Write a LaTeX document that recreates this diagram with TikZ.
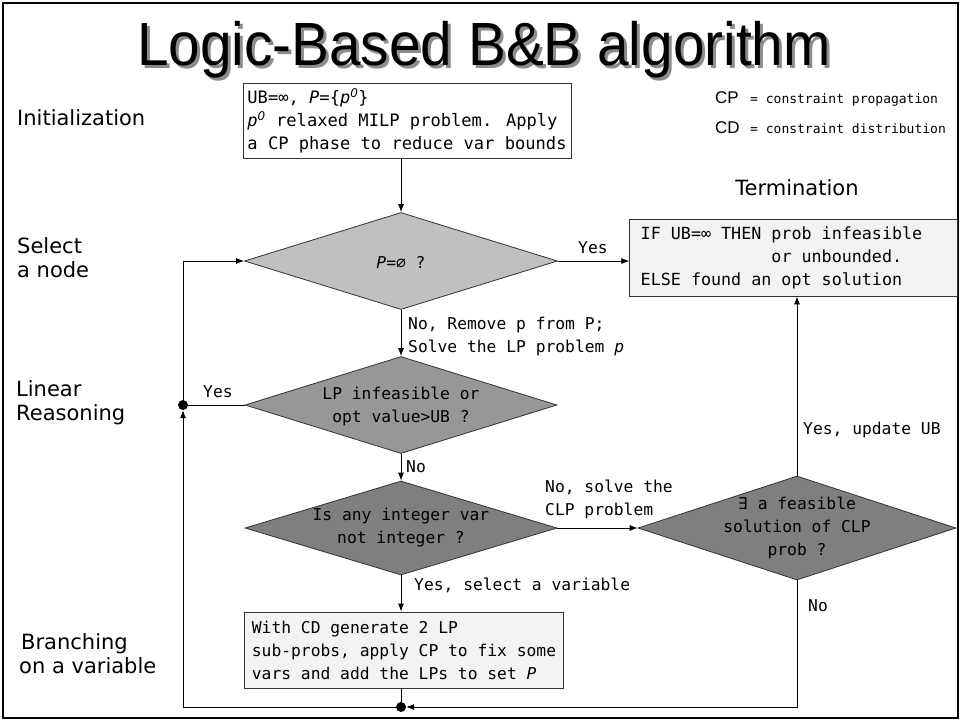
\documentclass[tikz,border=0pt]{standalone}
\usepackage{fontspec}
\usepackage{graphicx}
\usetikzlibrary{shapes.geometric,arrows.meta,calc}
\setmainfont{DejaVu Sans}
\newfontfamily\monof{DejaVu Sans Mono}
\newfontfamily\titlef{Liberation Sans}
\newfontfamily\labf{DejaVu Sans}
\newcommand\supzero{\textsuperscript{\labf\itshape 0}}
\definecolor{dlight}{HTML}{C0C0C0}
\definecolor{dmid}{HTML}{979797}
\definecolor{ddark}{HTML}{7F7F7F}
\definecolor{boxfill}{HTML}{F3F3F3}
\definecolor{edge}{HTML}{333333}
\begin{document}
\begin{tikzpicture}[x=1pt,y=-1pt,
  flow/.style={line width=0.8pt, draw=black},
  arr/.style={flow, -{Latex[length=8pt,width=6pt]}},
  mono/.style={font=\monof\fontsize{16.3}{23}\selectfont},
  monosmall/.style={font=\monof\fontsize{13}{15}\selectfont},
  side/.style={font=\labf\fontsize{21}{24}\selectfont, align=left, inner sep=0pt},
  procbox/.style={draw=edge, line width=0.8pt, mono, align=left, inner ysep=4pt},
  decision/.style={diamond, draw=edge, line width=0.8pt, inner sep=0pt},
  dtext/.style={mono, align=center, inner sep=0pt},
  lbl/.style={mono, anchor=west, align=left, inner sep=0pt},
  junction/.style={circle, fill=black, inner sep=0pt, minimum size=10pt},
  titletext/.style={font=\titlef\fontsize{61}{61}\selectfont, anchor=base, inner sep=0pt}
]
\useasboundingbox (0,0) rectangle (961,721);
% frame
\draw[line width=2.5pt] (3,3) rectangle (958,718);

% title with its drop shadow
\node[titletext] (title) at (484,65)
  {\makebox[0pt][l]{\hspace*{3pt}\raisebox{-3pt}{\textcolor{black!45}{\scalebox{0.93}[1]{Logic-Based B\&B algorithm}}}}%
   \scalebox{0.93}[1]{Logic-Based B\&B algorithm}};

% legend
\node[font=\titlef\fontsize{17}{17}\selectfont, anchor=base west, inner sep=0pt] (cp) at (715,103) {CP};
\node[monosmall, anchor=base west, inner sep=0pt] (cpt) at (750,103) {= constraint propagation};
\node[font=\titlef\fontsize{17}{17}\selectfont, anchor=base west, inner sep=0pt] (cd) at (715,133) {CD};
\node[monosmall, anchor=base west, inner sep=0pt] (cdt) at (750,133) {= constraint distribution};

% phase labels
\node[side, anchor=base west] (lInit) at (17,125) {Initialization};
\node[side, anchor=west] (lSel) at (17,258) {Select\\a node};
\node[side, anchor=west] (lLin) at (16,403) {Linear\\Reasoning};
\node[side, anchor=west] (lBr) at (19,654) {\hspace*{2pt}Branching\\on a variable};
\node[side, anchor=center] (lTerm) at (797,188) {Termination};

% process boxes
\node[procbox, fill=white, font=\monof\fontsize{17.1}{23}\selectfont,
      inner xsep=4.5pt, minimum height=75pt] (init) at (407,120.5)
  {UB=∞,\ {\itshape P}=\{{\itshape p}\supzero\}\\
   {\itshape p}\supzero{} relaxed MILP problem. Apply\\
   a CP phase to reduce var bounds};
\node[procbox, fill=boxfill, font=\monof\fontsize{16.7}{23}\selectfont,
      inner xsep=11pt, minimum height=77pt] (term) at (793.5,257.5)
  {IF UB=∞ THEN prob infeasible\hspace*{24pt}\\
   \phantom{IF UB=∞ THEN }or unbounded.\\
   ELSE found an opt solution};
\node[procbox, fill=boxfill, inner xsep=7pt, minimum height=76pt] (branch) at (404,650)
  {With CD generate 2 LP\\
   sub-probs, apply CP to fix some\\
   vars and add the LPs to set {\itshape P}};

% decisions
\node[decision, fill=dlight, minimum width=313pt, minimum height=97pt] (d1) at (401,261) {};
\node[dtext] (d1t) at (401,262) {{\itshape P}=∅ ?};
\node[decision, fill=dmid, minimum width=312pt, minimum height=97pt] (d2) at (401,405) {};
\node[dtext] (d2t) at (401,406) {LP infeasible or\\opt value>UB ?};
\node[decision, fill=ddark, minimum width=312pt, minimum height=94pt] (d3) at (401,528) {};
\node[dtext] (d3t) at (401,528) {Is any integer var\\not integer ?};
\node[decision, fill=ddark, minimum width=318pt, minimum height=104pt] (d4) at (797,528) {};
\node[dtext] (d4t) at (797,528) {∃ a feasible\\solution of CLP\\prob ?};

% junction dots
\node[junction] (j1) at (183,405) {};
\node[junction] (j2) at (401,707) {};

% connectors
\draw[arr] (init.south -| d1.north) -- (d1.north);
\draw[arr] (d1.east) -- (d1.east -| term.west);
\draw[arr] (d1.south) -- (d2.north);
\draw[arr] (d2.south) -- (d3.north);
\draw[arr] (d3.south) -- (d3.south |- branch.north);
\draw[arr] (d3.east) -- (d4.west);
\draw[arr] (d4.north) -- (d4.north |- term.south);
\draw[arr] (d4.south) |- (j2);
\draw[flow] (branch.south -| j2) -- (j2);
\draw[arr] (j2) -| (j1);
\draw[flow] (d2.west) -- (j1);
\draw[arr] (j1) |- (d1.west);

% connector labels
\node[lbl] (yes1) at (578,248) {Yes};
\node[lbl] (no1) at (408,336) {No, Remove p from P;\\Solve the LP problem {\itshape p}};
\node[lbl] (yes2) at (203,392) {Yes};
\node[lbl] (no2) at (406,467) {No};
\node[lbl] (no3) at (545,499) {No, solve the\\CLP problem};
\node[lbl] (yes3) at (414,585) {Yes, select a variable};
\node[lbl] (yes4) at (803,430) {Yes, update UB};
\node[lbl] (no4) at (808,606) {No};
\end{tikzpicture}
\end{document}
